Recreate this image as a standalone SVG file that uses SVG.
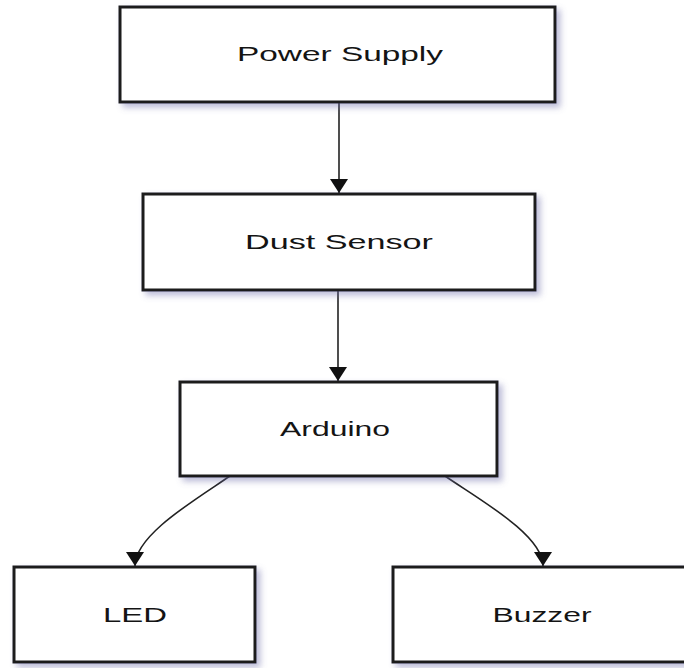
<svg xmlns="http://www.w3.org/2000/svg" width="684" height="668" viewBox="0 0 684 668">
  <style>
    .box { fill: #ffffff; stroke: #1a1a1a; stroke-width: 3; filter: url(#shadow); }
    .label { font-family: "Liberation Sans", Arial, sans-serif; font-size: 21px; fill: #141414; text-anchor: middle; }
    .edge { fill: none; stroke: #222222; stroke-width: 1.6; marker-end: url(#arrow); }
  </style>
  <defs>
    <filter id="shadow" x="-10%" y="-20%" width="125%" height="150%">
      <feDropShadow dx="4" dy="4" stdDeviation="3" flood-color="#6a6aa8" flood-opacity="0.45"/>
    </filter>
    <marker id="arrow" viewBox="0 -9 14 18" refX="14" refY="0" markerWidth="14" markerHeight="18" markerUnits="userSpaceOnUse" orient="auto">
      <path d="M0,-9 L14,0 L0,9 z" fill="#111111"/>
    </marker>
  </defs>
  <rect width="684" height="668" fill="#ffffff"/>

  <g id="connectors">
    <path class="edge" d="M339,103 V193"/>
    <path class="edge" d="M338,291 V381"/>
    <path class="edge" d="M230,476 C195,500 135,535 135,566"/>
    <path class="edge" d="M445,476 C480,500 543,535 543,566"/>
  </g>

  <g id="power-supply">
    <rect class="box" x="120" y="7" width="435" height="95"/>
    <text class="label" x="340" y="61" textLength="206" lengthAdjust="spacingAndGlyphs">Power Supply</text>
  </g>
  <g id="dust-sensor">
    <rect class="box" x="143" y="194" width="392" height="96"/>
    <text class="label" x="339" y="249" textLength="188" lengthAdjust="spacingAndGlyphs">Dust Sensor</text>
  </g>
  <g id="arduino">
    <rect class="box" x="180" y="382" width="317" height="94"/>
    <text class="label" x="335" y="436" textLength="110" lengthAdjust="spacingAndGlyphs">Arduino</text>
  </g>
  <g id="led">
    <rect class="box" x="14" y="567" width="241" height="95"/>
    <text class="label" x="135" y="622" textLength="64" lengthAdjust="spacingAndGlyphs">LED</text>
  </g>
  <g id="buzzer">
    <rect class="box" x="393" y="567" width="298" height="95"/>
    <text class="label" x="542" y="622" textLength="99" lengthAdjust="spacingAndGlyphs">Buzzer</text>
  </g>
</svg>
